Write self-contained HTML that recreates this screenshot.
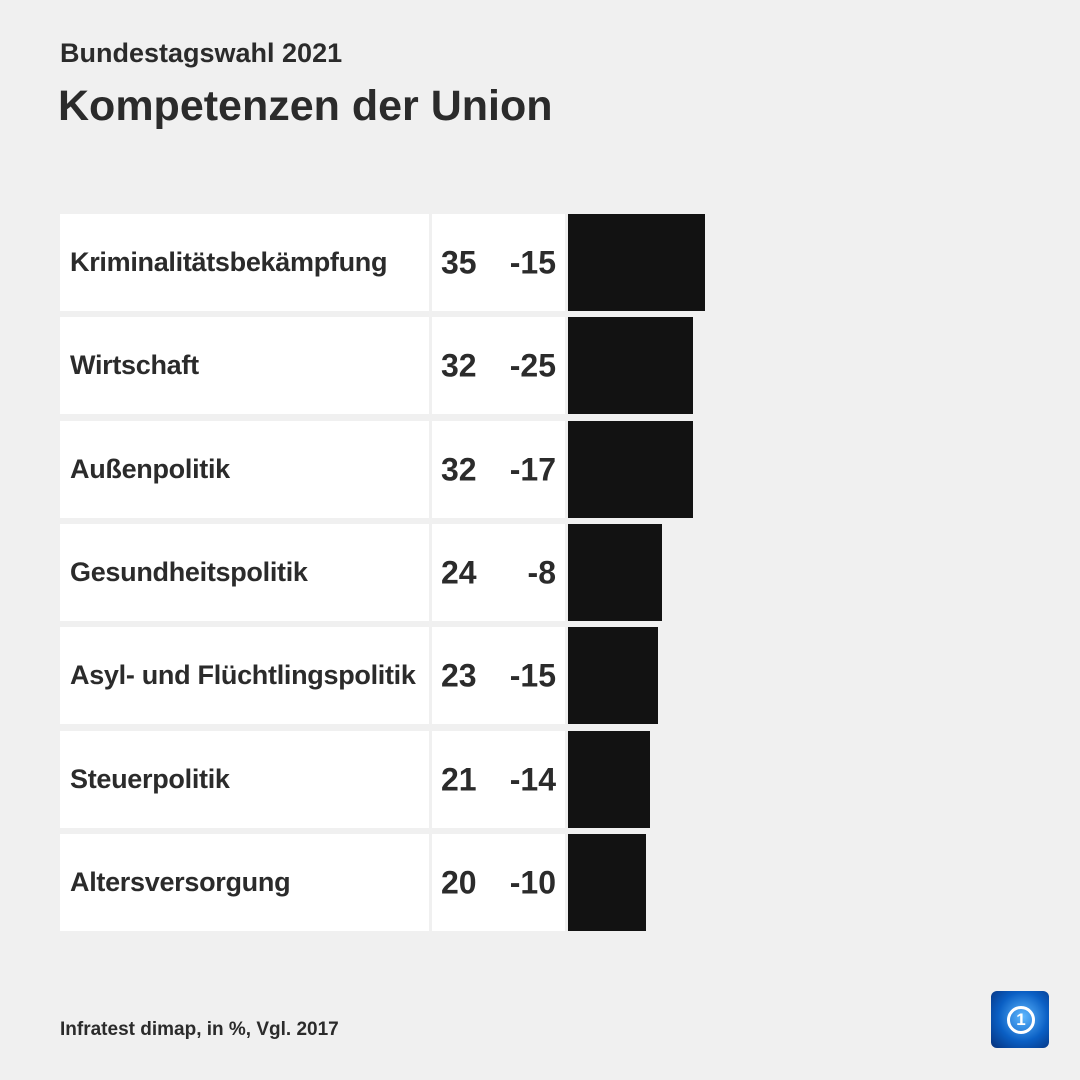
<!DOCTYPE html>
<html><head><meta charset="utf-8"><style>
body{margin:0;width:1080px;height:1080px;background:#f0f0f0;font-family:"Liberation Sans",sans-serif;color:#2b2b2b;position:relative;overflow:hidden}
.abs{position:absolute}
.row-label,.num-cell{background:#fff;position:absolute;font-weight:bold}
.row-label{left:60px;width:369px;font-size:27px;padding-left:10px;box-sizing:border-box;display:flex;align-items:center;white-space:nowrap;letter-spacing:-0.3px}
.num-cell{left:432px;width:133px;font-size:32px}
.num-cell span{position:absolute;top:50%;transform:translateY(-50%)}
.bar{position:absolute;left:568px;background:#121212}
</style></head><body>
<div class="abs" style="left:60px;top:38px;font-size:27px;font-weight:bold">Bundestagswahl 2021</div>
<div class="abs" style="left:58px;top:82px;font-size:43px;font-weight:bold">Kompetenzen der Union</div>
<div id="chart"></div>
<div class="abs" style="left:60px;top:1019px;font-size:19px;font-weight:bold">Infratest dimap, in %, Vgl. 2017</div>
<div class="abs" style="left:991px;top:991px;width:58px;height:57px;border-radius:6px;background:radial-gradient(circle at 55% 45%,#5fb8ff,#0a5fc4 55%,#06307a)">
<div style="position:absolute;left:16px;top:15px;width:22px;height:22px;border:3px solid #fff;border-radius:50%;color:#fff;font-weight:bold;font-size:17px;text-align:center;line-height:22px">1</div></div>
<script>
const categories=["Kriminalitätsbekämpfung","Wirtschaft","Außenpolitik","Gesundheitspolitik","Asyl- und Flüchtlingspolitik","Steuerpolitik","Altersversorgung"];
const values=[35,32,32,24,23,21,20];
const changes=[-15,-25,-17,-8,-15,-14,-10];
const chart=document.getElementById('chart');
const top0=214,pitch=103.3,h=97,scale=3.92;
categories.forEach((c,i)=>{
 const y=Math.round(top0+i*pitch);
 const l=document.createElement('div');l.className='row-label';l.style.top=y+'px';l.style.height=h+'px';l.textContent=c;
 
 
 chart.appendChild(l);
 const n=document.createElement('div');n.className='num-cell';n.style.top=y+'px';n.style.height=h+'px';
 n.innerHTML='<span style="left:9px">'+values[i]+'</span><span style="right:9px">'+changes[i]+'</span>';
 
 
 chart.appendChild(n);
 const b=document.createElement('div');b.className='bar';b.style.top=y+'px';b.style.height=h+'px';b.style.width=(values[i]*scale)+'px';
 
 
 chart.appendChild(b);
});
</script>
</body></html>
